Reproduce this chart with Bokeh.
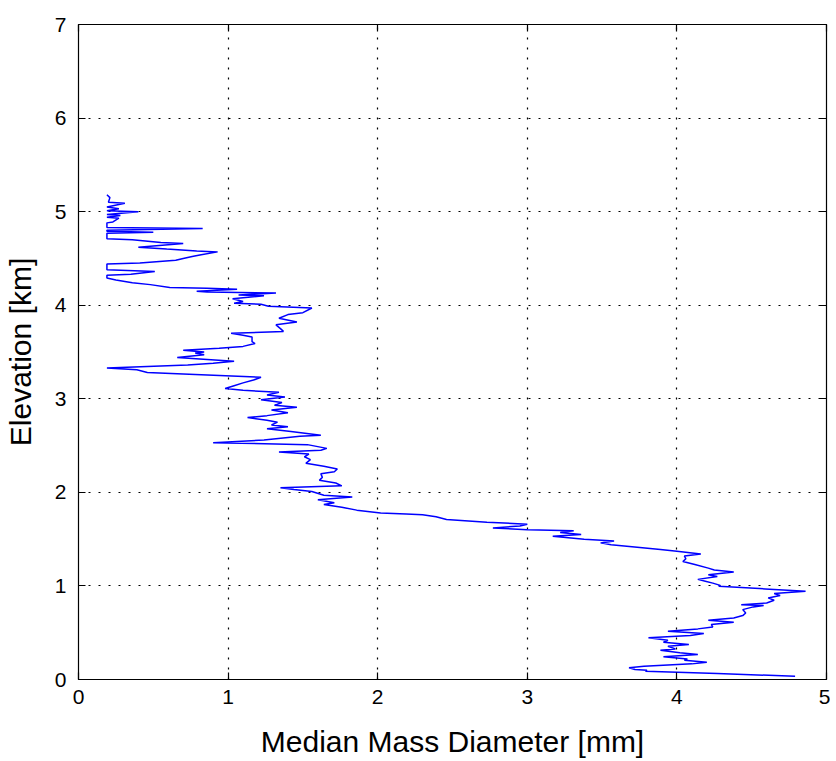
from bokeh.plotting import figure
from bokeh.models import LinearAxis, Range1d, FixedTicker, ColumnDataSource
from bokeh.embed import file_html
from bokeh.resources import INLINE

# ---- data: median mass diameter (mm) vs elevation (km), bottom to top ----
d_0_1km = [4.79, 4.27, 3.79, 3.80, 3.72, 3.68, 3.78, 4.10, 4.20, 4.05, 4.07, 3.91, 4.14, 4.02, 3.89,
           3.99, 3.94, 4.08, 3.91, 3.94, 3.81, 4.09, 4.18, 3.94, 4.14, 4.24, 4.23, 4.38, 4.21, 4.38,
           4.44, 4.46, 4.44, 4.51, 4.58, 4.43, 4.60, 4.65, 4.61, 4.69, 4.65, 4.86, 4.59, 4.28]
z_0_1km = [0.035, 0.064, 0.089, 0.100, 0.107, 0.125, 0.142, 0.167, 0.185, 0.206, 0.220, 0.242, 0.267,
           0.285, 0.313, 0.327, 0.356, 0.374, 0.399, 0.420, 0.445, 0.470, 0.491, 0.516, 0.541, 0.562,
           0.587, 0.612, 0.633, 0.658, 0.683, 0.711, 0.747, 0.776, 0.790, 0.800, 0.818, 0.847, 0.872,
           0.897, 0.918, 0.943, 0.968, 0.996]

d_1_2km = [4.29, 4.24, 4.19, 4.14, 4.27, 4.21, 4.38, 4.25, 4.21, 4.12, 4.04, 4.06, 4.05, 4.16, 4.00,
           3.89, 3.70, 3.56, 3.49, 3.58, 3.38, 3.17, 3.36, 3.22, 3.31, 3.00, 2.77, 2.95, 3.00, 2.73,
           2.46, 2.39, 2.30, 2.19, 2.02]
z_1_2km = [1.006, 1.03, 1.05, 1.07, 1.10, 1.12, 1.15, 1.17, 1.19, 1.23, 1.26, 1.29, 1.32, 1.34, 1.37,
           1.39, 1.42, 1.44, 1.46, 1.48, 1.50, 1.53, 1.55, 1.57, 1.59, 1.60, 1.62, 1.64, 1.66, 1.68,
           1.71, 1.74, 1.76, 1.77, 1.78]

d_2_2p5km = [1.86, 1.76, 1.64, 1.71, 1.60, 1.83, 1.64, 1.56, 1.44, 1.35, 1.76, 1.72, 1.61, 1.63, 1.62,
             1.71, 1.73, 1.64, 1.52, 1.55, 1.51, 1.54, 1.34, 1.62, 1.66]
z_2_2p5km = [1.81, 1.84, 1.87, 1.89, 1.92, 1.95, 1.97, 2.01, 2.03, 2.05, 2.07, 2.10, 2.13, 2.16, 2.20,
             2.22, 2.25, 2.28, 2.31, 2.35, 2.38, 2.41, 2.43, 2.45, 2.47]

d_2p5_4km = [1.53, 0.90, 1.24, 1.48, 1.62, 1.42, 1.26, 1.40, 1.29, 1.33, 1.26, 1.13, 1.26, 1.40, 1.29,
             1.46, 1.31, 1.36, 1.22, 1.38, 1.26, 1.34, 1.10, 0.98, 1.04, 1.10, 1.17, 1.22, 0.78, 0.46,
             0.39, 0.19, 0.73, 0.90, 1.04, 0.86, 0.66, 0.84, 0.78, 0.84, 0.70, 0.94, 1.10, 1.18, 1.16,
             1.16, 1.10, 1.02, 1.37, 1.35, 1.32, 1.46, 1.34, 1.40, 1.50, 1.56, 1.27, 1.22, 1.04]
z_2p5_4km = [2.51, 2.53, 2.56, 2.60, 2.61, 2.65, 2.68, 2.70, 2.72, 2.75, 2.77, 2.80, 2.82, 2.85, 2.88,
             2.91, 2.93, 2.96, 2.99, 3.02, 3.04, 3.07, 3.09, 3.11, 3.14, 3.17, 3.20, 3.23, 3.26, 3.28,
             3.31, 3.33, 3.36, 3.38, 3.40, 3.42, 3.44, 3.47, 3.49, 3.50, 3.52, 3.54, 3.56, 3.59, 3.61,
             3.66, 3.68, 3.70, 3.72, 3.75, 3.79, 3.82, 3.86, 3.90, 3.92, 3.97, 3.99, 4.01, 4.02]

d_4_5km = [1.10, 1.03, 1.24, 1.07, 1.32, 0.86, 0.79, 1.06, 0.86, 0.61, 0.48, 0.36, 0.25, 0.19, 0.19,
           0.35, 0.51, 0.19, 0.19, 0.41, 0.65, 0.70, 0.76, 0.82, 0.93, 0.79, 0.59, 0.40, 0.70, 0.55,
           0.36, 0.19, 0.19, 0.50, 0.19, 0.19, 0.83, 0.19, 0.19, 0.23, 0.27, 0.19, 0.28, 0.19, 0.40,
           0.19, 0.27, 0.19, 0.31, 0.20, 0.21, 0.19]
z_4_5km = [4.04, 4.07, 4.10, 4.11, 4.13, 4.14, 4.15, 4.17, 4.18, 4.19, 4.22, 4.24, 4.27, 4.29, 4.32,
           4.33, 4.36, 4.38, 4.44, 4.45, 4.48, 4.50, 4.52, 4.54, 4.57, 4.58, 4.60, 4.62, 4.66, 4.67,
           4.70, 4.71, 4.77, 4.78, 4.79, 4.80, 4.82, 4.83, 4.88, 4.89, 4.93, 4.94, 4.96, 4.97, 5.00,
           5.01, 5.03, 5.05, 5.09, 5.10, 5.15, 5.18]

x_ticks = [0, 1, 2, 3, 4, 5]
y_ticks = [0, 1, 2, 3, 4, 5, 6, 7]
x_label = "Median Mass Diameter [mm]"
y_label = "Elevation [km]"

diameter = d_0_1km + d_1_2km + d_2_2p5km + d_2p5_4km + d_4_5km
elevation = z_0_1km + z_1_2km + z_2_2p5km + z_2p5_4km + z_4_5km
src = ColumnDataSource(dict(x=diameter, y=elevation))

FONT = "Liberation Sans"

p = figure(width=830, height=760,
           x_range=Range1d(0, 5), y_range=Range1d(0, 7),
           output_backend="svg", toolbar_location=None,
           min_border_left=78, min_border_right=4, min_border_top=24, min_border_bottom=80)
p.background_fill_color = "white"
p.border_fill_color = "white"
p.outline_line_color = "black"
p.outline_line_width = 1

p.line("x", "y", source=src, line_color="#0000FF", line_width=1.5)

# grid
p.xgrid.ticker = FixedTicker(ticks=x_ticks)
p.ygrid.ticker = FixedTicker(ticks=y_ticks)
p.grid.grid_line_color = "black"
p.grid.grid_line_dash = "2 8"
p.grid.grid_line_width = 1.2
p.grid.grid_line_alpha = 1.0

def style(ax, ticks, labels=True):
    ax.ticker = FixedTicker(ticks=ticks)
    ax.major_tick_in = 7
    ax.major_tick_out = 0
    ax.minor_tick_line_color = None
    ax.axis_line_color = "black"
    ax.major_tick_line_color = "black"
    ax.axis_line_width = 1.2
    ax.major_tick_line_width = 1.2
    ax.major_label_text_font = FONT
    ax.major_label_text_color = "black"
    ax.axis_label_text_font = FONT
    ax.axis_label_text_font_style = "normal"
    ax.axis_label_text_color = "black"
    if not labels:
        ax.major_label_overrides = {t: "" for t in ticks}
        ax.major_label_text_font_size = "8px"
        ax.major_label_standoff = 0

style(p.xaxis[0], x_ticks)
style(p.yaxis[0], y_ticks)
p.xaxis.major_label_text_font_size = "21px"
p.yaxis.major_label_text_font_size = "21px"
p.xaxis.major_label_standoff = 10
p.yaxis.major_label_standoff = 12
p.xaxis.axis_label = x_label
p.yaxis.axis_label = y_label
p.xaxis.axis_label_text_font_size = "30px"
p.yaxis.axis_label_text_font_size = "30px"
p.xaxis.axis_label_standoff = 18
p.yaxis.axis_label_standoff = 15

top = LinearAxis()
style(top, x_ticks, labels=False)
p.add_layout(top, "above")
right = LinearAxis()
style(right, y_ticks, labels=False)
p.add_layout(right, "right")

open("out.html", "w").write(file_html(p, INLINE))
